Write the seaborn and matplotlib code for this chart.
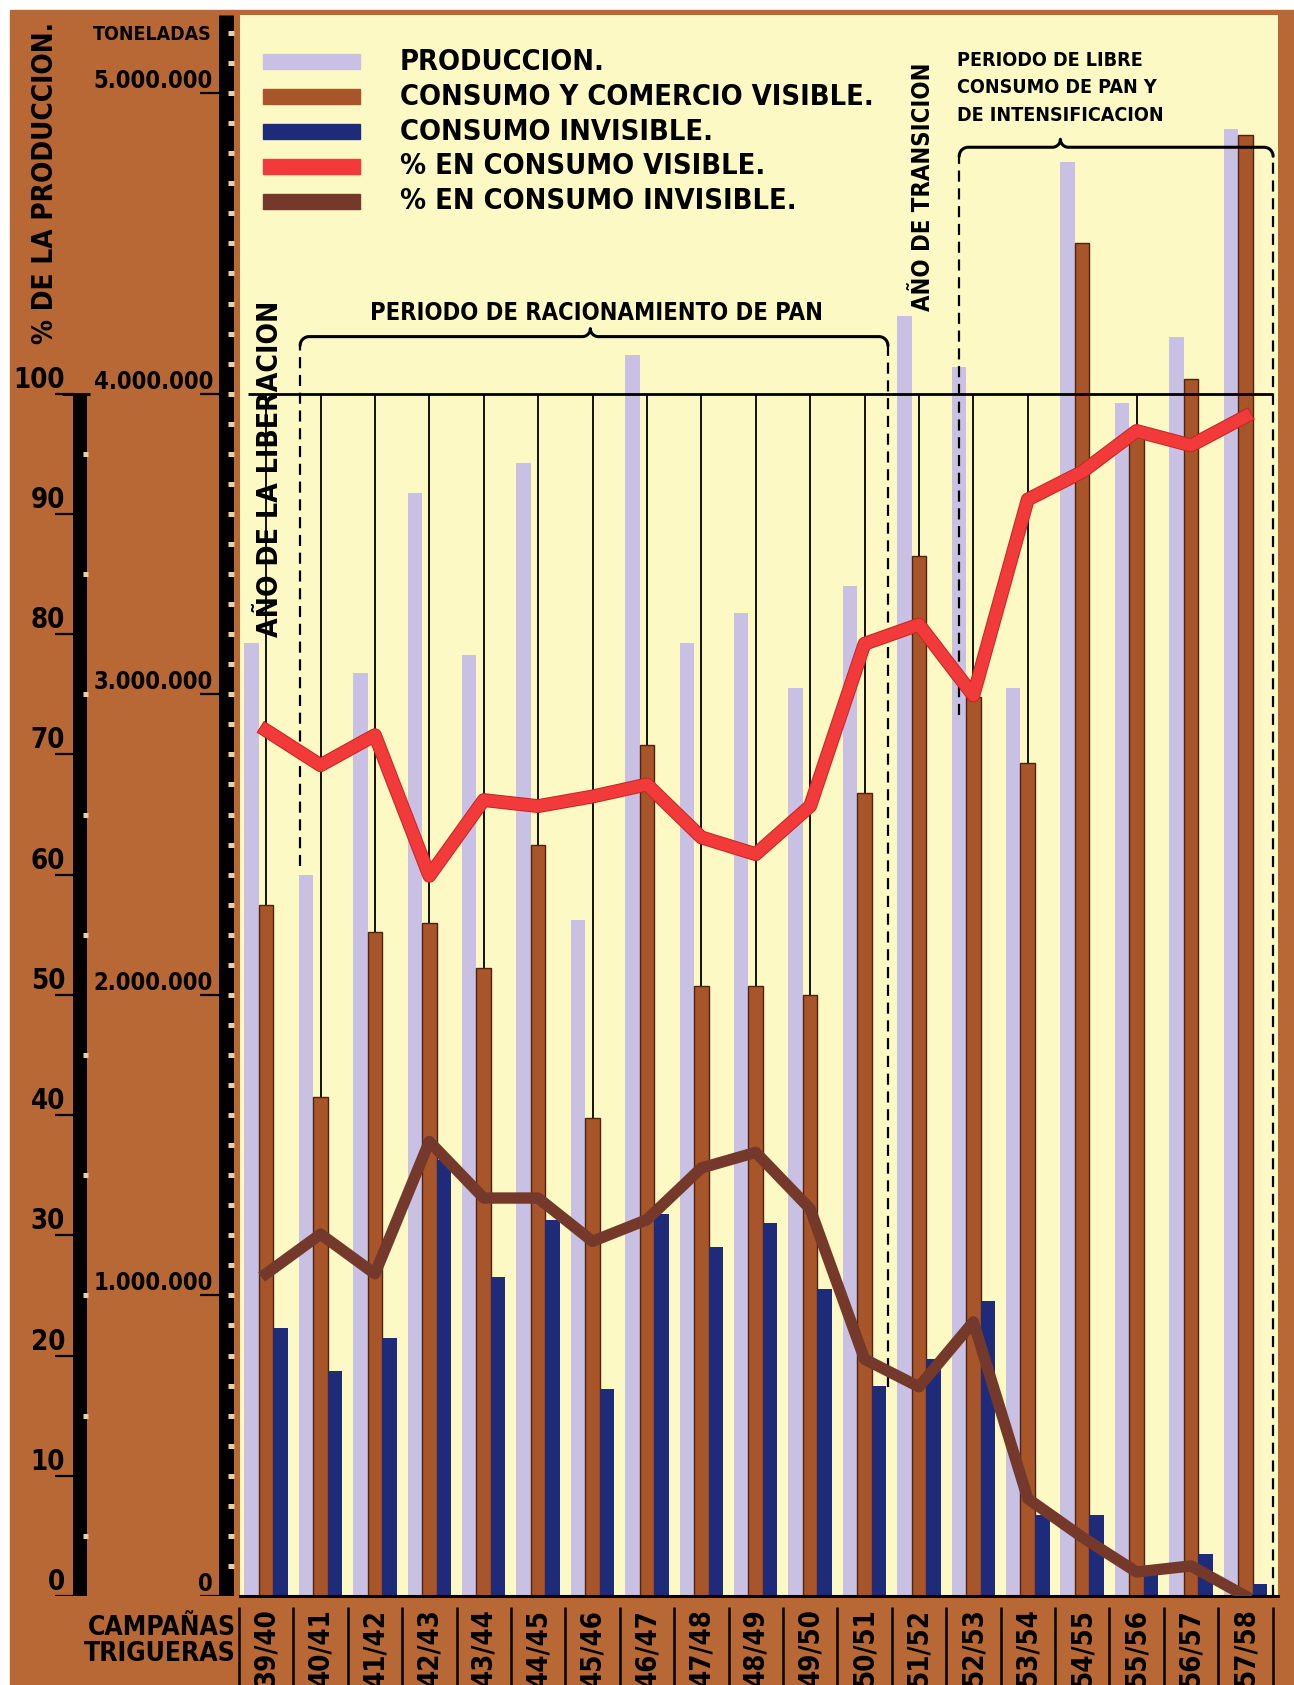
import numpy as np
import pandas as pd
import matplotlib
matplotlib.use("Agg")
import matplotlib.pyplot as plt
import matplotlib.patheffects as pe
from matplotlib.patches import Rectangle
import seaborn as sns

# --- Data: campañas trigueras 39/40 - 57/58 ---
campaigns = ["39/40", "40/41", "41/42", "42/43", "43/44", "44/45", "45/46",
             "46/47", "47/48", "48/49", "49/50", "50/51", "51/52", "52/53",
             "53/54", "54/55", "55/56", "56/57", "57/58"]
# millions of tonnes
production = [3.17, 2.40, 3.07, 3.67, 3.13, 3.77, 2.25, 4.13, 3.17, 3.27,
              3.02, 3.36, 4.26, 4.09, 3.02, 4.77, 3.97, 4.19, 4.88]
visible = [2.30, 1.66, 2.21, 2.24, 2.09, 2.50, 1.59, 2.83, 2.03, 2.03,
           2.00, 2.67, 3.46, 2.99, 2.77, 4.50, 3.86, 4.05, 4.86]
invisible = [0.89, 0.75, 0.86, 1.45, 1.06, 1.25, 0.69, 1.27, 1.16, 1.24,
             1.02, 0.70, 0.79, 0.98, 0.27, 0.27, 0.09, 0.14, 0.04]
# % of production
pct_visible = [72.0, 69.1, 71.6, 59.9, 66.2, 65.7, 66.5, 67.5, 63.1, 61.7,
               65.7, 79.2, 80.8, 74.9, 91.2, 93.5, 96.9, 95.7, 98.1]
pct_invisible = [26.8, 30.1, 26.8, 37.8, 33.1, 33.1, 29.5, 31.3, 35.6, 36.9,
                 32.2, 19.7, 17.4, 22.8, 8.1, 4.9, 2.0, 2.5, 0.0]

series = ["PRODUCCION.", "CONSUMO Y COMERCIO VISIBLE.", "CONSUMO INVISIBLE."]
line_labels = ["% EN CONSUMO VISIBLE.", "% EN CONSUMO INVISIBLE."]

# --- Colours ---
BG = "#b86834"
YELLOW = "#fdf9c4"
LILAC = "#c9c1e4"
BROWN = "#a8552a"
BROWN_EDGE = "#4d2412"
BLUE = "#1d2b7a"
RED = "#f23a3a"
DARK = "#74392a"
NOTCH = "#e9cfa8"

plt.rcParams["font.family"] = ["DejaVu Sans"]
plt.rcParams["font.weight"] = "bold"
plt.rcParams["font.stretch"] = "condensed"

W, H = 1294, 1685
def fx(px): return px / W
def fy(py): return 1 - py / H

fig = plt.figure(figsize=(W / 100, H / 100), dpi=100, facecolor="white")
fig.add_artist(Rectangle((fx(10), 0), 1 - fx(10), fy(10), transform=fig.transFigure,
                         color=BG, zorder=-5))

# main plotting area (px layout of the original sheet)
AX_L, AX_R, AX_T, AX_B = 240, 1278, 15, 1596
ax = fig.add_axes([fx(AX_L), fy(AX_B), fx(AX_R) - fx(AX_L), fy(AX_T) - fy(AX_B)])
ax.set_facecolor(YELLOW)

TON_PER_PCT = 4e6 / 100       # 100 % sits on the 4.000.000 t line
YMAX = 5.26e6
XMIN, XMAX = -0.48, 18.6

df = pd.DataFrame({
    "campaña": campaigns * 3,
    "serie": [s for s in series for _ in campaigns],
    "toneladas": np.array(production + visible + invisible) * 1e6,
})
sns.barplot(data=df, x="campaña", y="toneladas", hue="serie", hue_order=series,
            order=campaigns, palette=[LILAC, BROWN, BLUE], saturation=1,
            width=0.8, dodge=True, errorbar=None, legend=False, ax=ax, zorder=2)
for bar in ax.containers[1]:
    bar.set_edgecolor(BROWN_EDGE)
    bar.set_linewidth(1.0)

idx = np.arange(len(campaigns))
ax.set_xlim(XMIN, XMAX)
ax.set_ylim(0, YMAX)
ax.vlines(idx, 0, 4e6, color="black", lw=1.3, zorder=1)
ax.hlines(4e6, -0.33, 18.51, color="black", lw=2.0, zorder=4)
ax.axhline(0, color="black", lw=2.2, zorder=6, clip_on=False)
for s in ax.spines.values():
    s.set_visible(False)
ax.set_yticks([])
ax.set_ylabel("")
ax.set_xlabel("")
ax.set_xticks(idx)
ax.set_xticklabels(campaigns, rotation=90, fontsize=20, fontweight="bold")
ax.tick_params(axis="x", length=0, pad=9)
# cell separators of the campaign strip
ax.vlines(np.arange(len(campaigns) + 1) - 0.5, -0.007, -0.06,
          transform=ax.get_xaxis_transform(), clip_on=False, color="black", lw=1.8)

# percent lines on a twin axis
ax2 = ax.twinx()
sns.lineplot(x=idx, y=pct_visible, ax=ax2, color=RED, lw=8.6, legend=False,
             path_effects=[pe.Stroke(linewidth=10, foreground="#c42424"), pe.Normal()])
sns.lineplot(x=idx, y=pct_invisible, ax=ax2, color=DARK, lw=8.2, legend=False)
ax2.set_ylim(0, YMAX / TON_PER_PCT)
ax2.set_xlim(XMIN, XMAX)
ax2.set_axis_off()

# --- braces and period markers ---
kx = (XMAX - XMIN) / (AX_R - AX_L)
ky = YMAX / (AX_B - AX_T)

def brace(x0, x1, y, xm=None, r=9, tip=8):
    if xm is None:
        xm = (x0 + x1) / 2
    t = np.linspace(0, np.pi / 2, 15)
    xs = list(x0 + r * kx * (1 - np.cos(t)))
    ys = list(y - r * ky * (1 - np.sin(t)))
    xs += list(xm - tip * kx + tip * kx * np.sin(t))
    ys += list(y + tip * ky - tip * ky * np.cos(t))
    xs += list(xm + tip * kx - tip * kx * np.sin(t[::-1]))
    ys += list(y + tip * ky - tip * ky * np.cos(t[::-1]))
    xs += list(x1 - r * kx * (1 - np.cos(t[::-1])))
    ys += list(y - r * ky * (1 - np.sin(t[::-1])))
    ax.plot(xs, ys, color="black", lw=2.2, zorder=5, solid_capstyle="round")
    return y - r * ky

dash = dict(color="black", lw=1.6, linestyles=(0, (5, 3)), zorder=5)
y_rac = brace(0.625, 11.43, 4.19e6, xm=5.96)
ax.vlines(0.625, 2.43e6, y_rac, **dash)
ax.vlines(11.43, 0.695e6, y_rac, **dash)
y_lib = brace(12.74, 18.51, 4.82e6, xm=14.6)
ax.vlines(12.74, 2.93e6, y_lib, **dash)
ax.vlines(18.51, 0, y_lib, **dash)

# texts, each later fitted to the width it has on the original sheet
fits = []
t = ax.text(6.08, 4.27e6, "PERIODO DE RACIONAMIENTO DE PAN", ha="center", va="center",
            fontsize=20, zorder=6)
fits.append(([t], 451, False))
t = ax.text(0.07, 3.75e6, "AÑO DE LA LIBERACION", rotation=90, ha="center", va="center",
            fontsize=20, zorder=6)
fits.append(([t], 335, True))
t = ax.text(12.08, 4.69e6, "AÑO DE TRANSICION", rotation=90, ha="center", va="center",
            fontsize=20, zorder=6)
fits.append(([t], 248, True))
libre = ax.text(12.70, 5.14e6, "PERIODO DE LIBRE\nCONSUMO DE PAN Y\nDE INTENSIFICACION",
                ha="left", va="top", fontsize=16, linespacing=1.55, zorder=6)
fits.append(([libre], 208, False))

# --- legend ---
leg_colors = [LILAC, BROWN, BLUE, RED, DARK]
leg_texts = []
for k, (lab, col) in enumerate(zip(series + line_labels, leg_colors)):
    yc = 62 + 34.8 * k
    fig.add_artist(Rectangle((fx(263), fy(yc + 7.5)), fx(360) - fx(263), 15 / H,
                             transform=fig.transFigure, color=col, zorder=8))
    leg_texts.append(fig.text(fx(400), fy(yc), lab, ha="left", va="center",
                              fontsize=20, zorder=8))
fits.append(([leg_texts[1]] + leg_texts[:1] + leg_texts[2:], 473, False))

# --- left scales (decoration axes in px units) ---
axL = fig.add_axes([0, fy(AX_B), fx(AX_L), fy(AX_T) - fy(AX_B)])
axL.set_xlim(0, AX_L)
axL.set_ylim(0, YMAX)
axL.set_axis_off()
axL.patch.set_alpha(0)

# percent scale
axL.vlines(80, 0, 4e6, color="black", lw=14 * 0.72)
pct_notch = np.arange(5, 100, 10) * TON_PER_PCT
axL.hlines(pct_notch, 83, 88, color=NOTCH, lw=5 * 0.72)
axL.hlines(4e6, 62, 90, color="black", lw=3 * 0.72)
pct_ticks = np.arange(0, 101, 10)
axL.hlines(pct_ticks * TON_PER_PCT, 55, 74, color="black", lw=2.2 * 0.72)
pct_texts = [axL.text(65, p * TON_PER_PCT, str(p), ha="right", va="bottom", fontsize=20)
             for p in pct_ticks]
fits.append(([pct_texts[-1]] + pct_texts[:-1], 52, False))

# tonnage scale
axL.vlines(225.5, 0, YMAX, color="black", lw=15 * 0.72)
ton_notch = np.arange(1, 53) * 1e5
axL.hlines(ton_notch, 228, 234, color=NOTCH, lw=5 * 0.72)
ton_ticks = np.arange(0, 6)
axL.hlines(ton_ticks * 1e6, 200, 220, color="black", lw=2.2 * 0.72)
ton_texts = [axL.text(213, m * 1e6, "0" if m == 0 else f"{m}.000.000",
                      ha="right", va="bottom", fontsize=20) for m in ton_ticks]
fits.append(([ton_texts[-1]] + ton_texts[:-1], 120, False))

t = axL.text(212, 5.195e6, "TONELADAS", ha="right", va="center", fontsize=16)
fits.append(([t], 119, False))
t = axL.text(45, 4.70e6, "% DE LA PRODUCCION.", rotation=90, ha="center", va="center",
             fontsize=20)
fits.append(([t], 322, True))

t = fig.text(fx(236), fy(1641), "CAMPAÑAS\nTRIGUERAS", ha="right", va="center",
             fontsize=20, linespacing=1.0)
fits.append(([t], 152, False))

# --- fit text sizes to the original lettering ---
fig.canvas.draw()
renderer = fig.canvas.get_renderer()
for group, target, vertical in fits:
    bb = group[0].get_window_extent(renderer=renderer)
    size = group[0].get_fontsize() * target / (bb.height if vertical else bb.width)
    for txt in group:
        txt.set_fontsize(size)
lbl = ax.get_xticklabels()[0]
bb = lbl.get_window_extent(renderer=renderer)
ax.tick_params(axis="x", labelsize=lbl.get_fontsize() * 78 / bb.height)

fig.savefig("out.png", dpi=100, facecolor=fig.get_facecolor())
